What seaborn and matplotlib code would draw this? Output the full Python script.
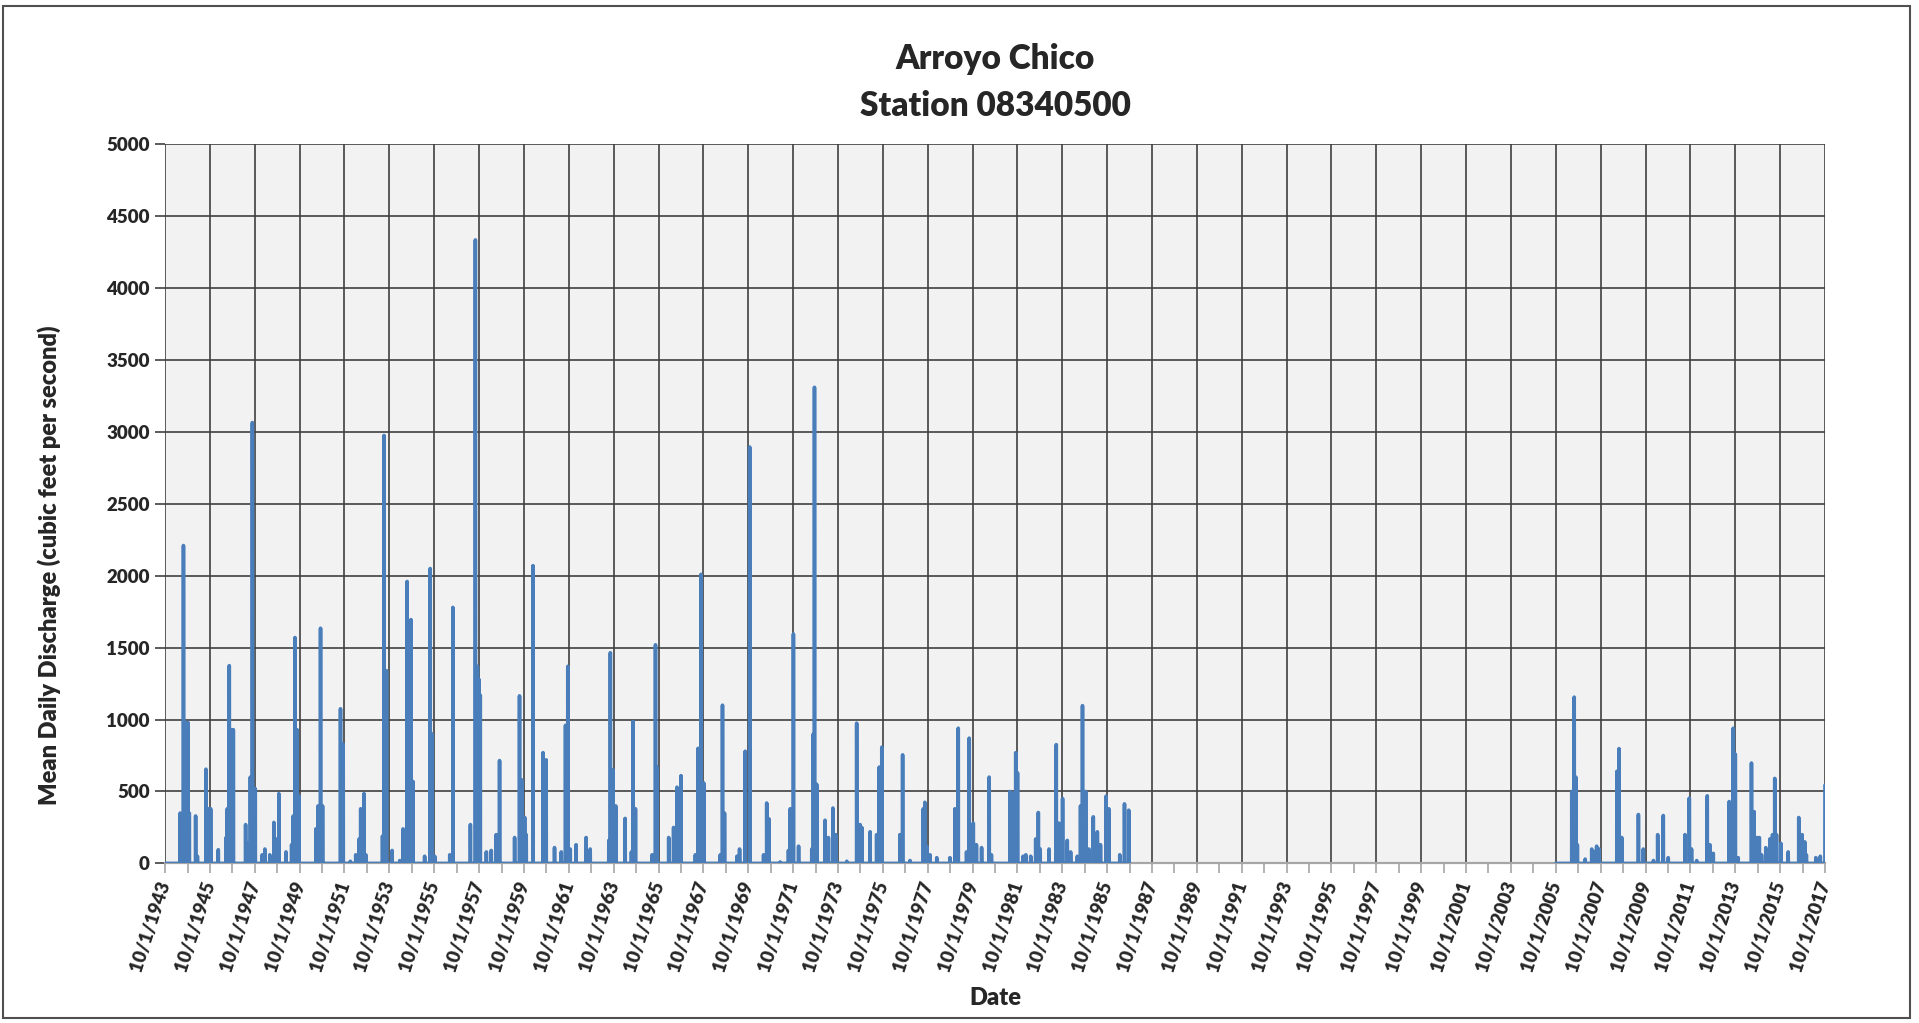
import numpy as np
import pandas as pd
import matplotlib
matplotlib.use('Agg')
import matplotlib.pyplot as plt
from matplotlib.patches import Rectangle
import seaborn as sns

# Station record periods (the gauge was off between 1986 and 2005)
record_start = ['1943-10-01', '2005-10-01']
record_end = ['1986-09-30', '2017-10-01']

# Flow events: decimal year and mean daily discharge (cfs)
early_years = [
    1944.42, 1944.57, 1944.68, 1944.77, 1944.83, 1945.11, 1945.19, 1945.57, 1945.68, 1945.78,
    1946.12, 1946.47, 1946.52, 1946.61, 1946.72, 1946.79, 1947.34, 1947.46, 1947.55, 1947.64,
    1947.77, 1948.08, 1948.20, 1948.42, 1948.60, 1948.72, 1948.82, 1949.14, 1949.39, 1949.46,
    1949.54, 1949.63, 1949.71, 1950.47, 1950.57, 1950.68, 1950.77, 1951.57, 1951.69, 1952.01,
    1952.25, 1952.40, 1952.47, 1952.62, 1952.70, 1953.44, 1953.51, 1953.62, 1953.87, 1954.21,
    1954.36, 1954.54, 1954.63, 1954.71, 1954.80, 1955.32, 1955.57, 1955.66, 1955.77, 1956.44,
    1956.58, 1957.36, 1957.58, 1957.67, 1957.74, 1957.80, 1958.07, 1958.29, 1958.51, 1958.66,
    1959.33, 1959.55, 1959.66, 1959.78, 1959.85, 1960.15, 1960.60, 1960.74, 1961.11, 1961.41,
    1961.60, 1961.70, 1961.81, 1962.07, 1962.52, 1962.70, 1963.53, 1963.60, 1963.72, 1963.84,
    1964.26, 1964.54, 1964.61, 1964.72, 1965.46, 1965.61, 1965.68, 1966.20, 1966.42, 1966.57,
    1966.75, 1967.39, 1967.51, 1967.64, 1967.76, 1968.50, 1968.60, 1968.69, 1969.24, 1969.36,
    1969.61, 1969.81, 1970.43, 1970.57, 1970.67, 1971.17, 1971.54, 1971.62, 1971.76, 1971.99,
    1972.58, 1972.65, 1972.70, 1972.80, 1973.17, 1973.32, 1973.52, 1973.65, 1974.14, 1974.58,
    1974.73, 1974.81, 1975.18, 1975.47, 1975.59, 1975.70, 1976.51, 1976.63, 1976.96, 1977.55,
    1977.62, 1977.70, 1977.85, 1978.15, 1978.74, 1978.96, 1979.11, 1979.48, 1979.60, 1979.78,
    1979.92, 1980.15, 1980.49, 1980.59, 1981.41, 1981.56, 1981.67, 1981.75, 1982.00, 1982.12,
    1982.34, 1982.56, 1982.68, 1982.76, 1983.16, 1983.48, 1983.60, 1983.76, 1983.97, 1984.12,
    1984.42, 1984.56, 1984.65, 1984.79, 1984.94, 1985.13, 1985.31, 1985.45, 1985.70, 1985.82,
    1986.31, 1986.52, 1986.71,
]
early_cfs = [
    350, 2210, 980, 980, 350, 330, 50, 655, 380, 380,
    95, 180, 380, 1375, 930, 930, 270, 140, 600, 3065,
    520, 60, 100, 60, 285, 170, 485, 80, 130, 330,
    1570, 930, 470, 240, 400, 1635, 400, 1075, 830, 15,
    60, 170, 380, 485, 60, 190, 2975, 1340, 90, 20,
    240, 1960, 1600, 1695, 570, 50, 2050, 900, 50, 60,
    1780, 270, 4335, 1370, 1280, 1170, 80, 90, 200, 715,
    180, 1165, 580, 320, 200, 2070, 770, 720, 110, 80,
    960, 1370, 100, 130, 180, 100, 160, 1465, 650, 400,
    313, 80, 987, 380, 60, 1520, 670, 180, 250, 530,
    610, 60, 800, 2010, 560, 60, 1100, 350, 50, 100,
    780, 2895, 60, 420, 310, 10, 90, 380, 1595, 120,
    100, 900, 3310, 550, 300, 180, 385, 200, 15, 975,
    270, 250, 220, 200, 670, 808, 200, 755, 20, 380,
    425, 120, 60, 40, 40, 380, 940, 80, 871, 280,
    130, 110, 600, 60, 500, 490, 770, 630, 50, 60,
    50, 170, 354, 100, 100, 826, 280, 451, 160, 80,
    50, 400, 1097, 500, 100, 324, 220, 130, 468, 380,
    60, 414, 370,
]
late_years = [
    2006.46, 2006.57, 2006.64, 2006.71, 2007.06, 2007.35, 2007.46, 2007.57, 2007.68, 2008.47,
    2008.57, 2008.69, 2009.43, 2009.65, 2010.10, 2010.29, 2010.54, 2010.76, 2011.51, 2011.70,
    2011.80, 2012.03, 2012.50, 2012.62, 2012.77, 2013.48, 2013.66, 2013.75, 2013.88, 2014.47,
    2014.59, 2014.70, 2014.82, 2014.92, 2015.11, 2015.29, 2015.41, 2015.51, 2015.59, 2015.78,
    2016.11, 2016.58, 2016.73, 2016.85, 2016.92, 2017.34, 2017.54, 2017.75,
]
late_cfs = [
    500, 1156, 600, 130, 30, 100, 80, 120, 100, 640,
    798, 180, 340, 100, 20, 200, 333, 40, 200, 454,
    100, 20, 470, 130, 70, 430, 940, 760, 40, 698,
    360, 180, 180, 60, 110, 170, 200, 591, 200, 140,
    80, 319, 200, 150, 60, 40, 50, 544,
]

tick_years = list(range(1943, 2018, 2))
minor_years = list(range(1944, 2018, 2))
tick_labels = [f'10/1/{y}' for y in tick_years]


def to_date(y):
    yr = int(y)
    return pd.Timestamp(yr, 1, 1) + pd.Timedelta(days=round((y - yr) * 365.25))


frames = []
for start, end, yrs, vals in zip(record_start, record_end,
                                 [early_years, late_years], [early_cfs, late_cfs]):
    days = pd.date_range(start, end, freq='D')
    s = pd.Series(0.0, index=days)
    for y, v in zip(yrs, vals):
        d = min(max(to_date(y), days[0]), days[-1])
        s[d] = max(s[d], v)
    frames.append(pd.DataFrame({'date': days, 'cfs': s.values}))

sns.set_theme(style='white')
plt.rcParams['font.family'] = ['Lato', 'DejaVu Sans']
W = 'heavy'

fig = plt.figure(figsize=(19.19, 10.23), dpi=100)
ax = fig.add_axes([0.086, 0.156, 0.865, 0.703])
ax.set_facecolor('#F2F2F2')

for df in frames:
    sns.lineplot(data=df, x='date', y='cfs', ax=ax, color='#4A7EBB', lw=2.6,
                 estimator=None, errorbar=None, zorder=3)

ax.set_xlim(pd.Timestamp('1943-10-01'), pd.Timestamp('2017-10-01'))
ax.set_ylim(0, 5000)
ax.set_yticks(range(0, 5001, 500))
ax.set_xticks([pd.Timestamp(y, 10, 1) for y in tick_years])
ax.set_xticks([pd.Timestamp(y, 10, 1) for y in minor_years], minor=True)
ax.set_xticklabels(tick_labels, rotation=72, ha='right', va='center',
                   rotation_mode='anchor', fontweight=W, fontsize=13.5)
for lab in ax.get_yticklabels():
    lab.set_fontweight(W)
    lab.set_fontsize(13.5)

ax.set_axisbelow(True)
ax.grid(True, which='major', color='#404040', lw=1.2)
for side in ['top', 'right', 'left']:
    ax.spines[side].set_visible(False)
ax.spines['bottom'].set_color('#A6A6A6')
ax.spines['bottom'].set_linewidth(1.6)
ax.tick_params(axis='x', which='both', direction='out', length=7, width=1.2,
               color='#A6A6A6', pad=6, bottom=True)
ax.tick_params(axis='y', direction='out', length=7, width=1.2, color='#404040',
               pad=4, left=True)

ax.set_ylabel('Mean Daily Discharge (cubic feet per second)', fontsize=17,
              fontweight=W)
ax.yaxis.set_label_coords(-0.0627, 0.414)
ax.set_xlabel('Date', fontsize=17, fontweight=W)
ax.xaxis.set_label_coords(0.5, -0.172)

fig.text(0.5185, 0.9423, 'Arroyo Chico', ha='center', va='center',
         fontsize=24, fontweight=W)
fig.text(0.5185, 0.8964, 'Station 08340500', ha='center', va='center',
         fontsize=24, fontweight=W)

fig.patches.append(Rectangle((0.0016, 0.0049), 0.9937, 0.9892, transform=fig.transFigure,
                             fill=False, edgecolor='#505050', lw=1.5))

fig.savefig('out.png', dpi=100)
